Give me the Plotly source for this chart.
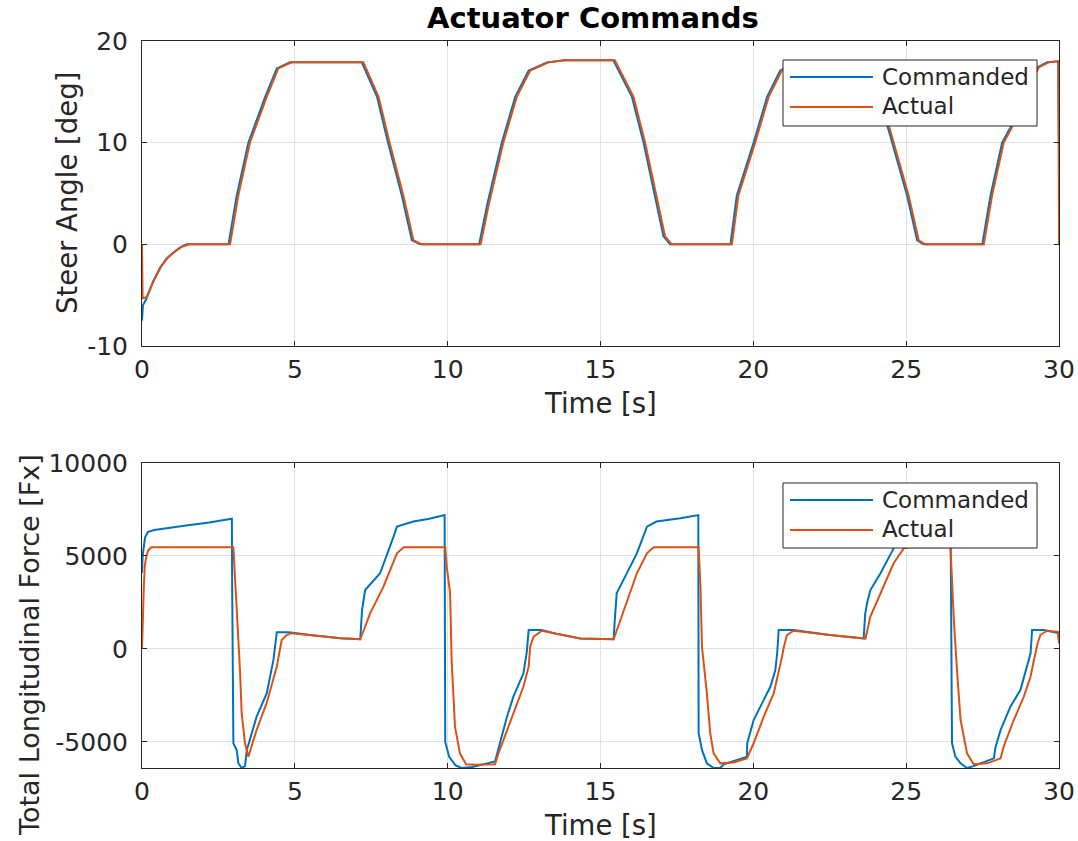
import plotly.graph_objects as go

# ---------------- data ----------------
# Steer angle [deg]
steer_cmd_t = [0, 0.02, 0.03, 0.15, 0.37, 0.59, 0.8, 1.03, 1.25, 1.46, 2.83, 3.10, 3.48, 4.03, 4.41, 4.84, 5.0,
               7.19, 7.69, 8.05, 8.5, 8.83, 9.1, 11.03, 11.3, 11.77, 12.21, 12.65, 13.25, 13.8,
               15.42, 16.03, 16.41, 16.79, 17.06, 17.28, 19.25, 19.46, 20.01, 20.45, 20.88, 21.4,
               23.72, 24.43, 25.03, 25.36, 25.57, 27.49, 27.76, 28.14, 28.41, 28.9, 29.29, 29.61, 29.97, 30.0]
steer_cmd = [-7.5, -6.3, -6.0, -5.3, -3.6, -2.3, -1.4, -0.8, -0.3, 0, 0, 4.8, 10, 14.5, 17.3, 17.9, 17.9,
             17.9, 14.5, 10, 4.8, 0.4, 0, 0, 4.0, 10, 14.5, 17.1, 17.9, 18.1,
             18.1, 14.5, 10, 4.8, 0.8, 0, 0, 4.8, 10, 14.5, 17.1, 17.9,
             17.9, 11.2, 4.8, 0.4, 0, 0, 4.8, 10, 11.5, 15.0, 17.4, 17.9, 18.0, 8.9]

steer_act_t = [0, 0.02, 0.15, 0.4, 0.62, 0.85, 1.08, 1.3, 1.55, 2.88, 3.15, 3.53, 4.08, 4.46, 4.9, 5.05,
               7.24, 7.74, 8.1, 8.55, 8.88, 9.15, 11.08, 11.35, 11.82, 12.26, 12.7, 13.3, 13.85,
               15.47, 16.08, 16.46, 16.84, 17.11, 17.33, 19.3, 19.51, 20.06, 20.5, 20.93, 21.45,
               23.77, 24.48, 25.08, 25.41, 25.62, 27.54, 27.81, 28.19, 28.46, 28.95, 29.34, 29.66, 29.98, 30.0]
steer_act = [0, -5.3, -5.2, -3.5, -2.2, -1.3, -0.7, -0.25, 0, 0, 4.8, 10, 14.5, 17.3, 17.9, 17.9,
             17.9, 14.5, 10, 4.8, 0.4, 0, 0, 4.0, 10, 14.5, 17.1, 17.9, 18.1,
             18.1, 14.5, 10, 4.8, 0.8, 0, 0, 4.8, 10, 14.5, 17.1, 17.9,
             17.9, 11.2, 4.8, 0.4, 0, 0, 4.8, 10, 11.5, 15.0, 17.4, 17.9, 18.0, 0]

# Total longitudinal force [Fx]
force_cmd_t = [0, 0.02, 0.1, 0.2, 0.4, 0.8, 1.5, 2.2, 2.94, 2.95, 2.99, 3.10, 3.15, 3.26, 3.37, 3.43,
               3.75, 4.08, 4.30, 4.41, 4.8, 5.5, 6.5, 7.14, 7.17, 7.2, 7.3, 7.79, 8.23, 8.34, 8.88, 9.4, 9.9,
               9.92, 10.05, 10.25, 10.45, 10.8, 11.55, 11.62, 11.72, 11.94, 12.15, 12.48, 12.59, 12.65,
               13.08, 13.6, 14.34, 15.43, 15.46, 15.53, 15.64, 15.86, 16.19, 16.52, 16.63, 16.83, 17.61, 18.2,
               18.21, 18.32, 18.48, 18.70, 18.92, 19.03, 19.79, 19.8, 20.01, 20.23, 20.56, 20.72, 20.78, 20.83,
               21.32, 22.5, 23.61, 23.66, 23.72, 23.83, 24.16, 24.59, 24.9, 25.1, 25.8, 26.45,
               26.47, 26.5, 26.61, 26.78, 26.99, 27.2, 27.87, 27.92, 28.09, 28.41, 28.74, 28.96, 29.07, 29.12,
               29.5, 29.97, 30.0]
force_cmd = [4100, 5000, 6000, 6300, 6400, 6500, 6650, 6800, 7000, 3350, -5070, -5430, -6130, -6400, -6300, -5430,
             -3640, -2390, -590, 900, 900, 750, 580, 520, 1600, 2100, 3170, 4070, 6040, 6580, 6850, 7000, 7200,
             -5000, -5800, -6250, -6400, -6350, -6050, -5620, -4890, -3640, -2560, -1310, -140, 1020,
             1020, 800, 570, 520, 1390, 2990, 3350, 4070, 5140, 6580, 6670, 6850, 7030, 7200,
             -4520, -5430, -6150, -6400, -6400, -6200, -5790, -5070, -3820, -3100, -2020, -1130, -230, 1020,
             1020, 750, 570, 1900, 2460, 3170, 4070, 5410, 6300, 6700, 7000, 7200,
             0, -5070, -5790, -6150, -6400, -6300, -5880, -5300, -4350, -3100, -2200, -950, -230, 1020,
             1020, 860, 480]

force_act_t = [0, 0.03, 0.06, 0.09, 0.13, 0.2, 0.3, 2.99, 3.04, 3.10, 3.21, 3.26, 3.37, 3.48,
               3.75, 4.08, 4.41, 4.57, 4.73, 4.9, 5.5, 6.5, 7.14, 7.2, 7.46, 7.90, 8.34, 8.56,
               9.92, 9.97, 10.08, 10.13, 10.24, 10.4, 10.6, 10.9, 11.55, 11.66, 11.83, 12.15, 12.48, 12.65,
               12.70, 12.81, 13.08, 13.6, 14.34, 15.43, 15.65, 15.86, 16.19, 16.52, 16.74,
               18.21, 18.27, 18.32, 18.48, 18.59, 18.70, 18.92, 19.35, 19.79, 20.01, 20.34, 20.67, 20.94,
               21.0, 21.10, 21.32, 22.5, 23.67, 23.83, 24.16, 24.59, 24.92, 25.1,
               26.45, 26.5, 26.56, 26.67, 26.78, 26.99, 27.21, 27.65, 28.09, 28.19, 28.52, 28.85, 29.07,
               29.18, 29.3, 29.39, 29.61, 29.97, 30.0]
force_act = [0, 2270, 3350, 4430, 4880, 5290, 5470, 5470, 3890, 2460, -1300, -3440, -5070, -5790,
             -4350, -2900, -950, 480, 750, 850, 750, 580, 520, 800, 1900, 3350, 5140, 5470,
             5470, 4430, 2990, -590, -4180, -5610, -6200, -6230, -6200, -5620, -4890, -3460, -2020, -950,
             120, 660, 980, 800, 570, 520, 1560, 2630, 4070, 5140, 5470,
             5470, 3350, 120, -2380, -4520, -5610, -6150, -6100, -5880, -5070, -3640, -2380, -410,
             120, 750, 980, 750, 560, 1740, 2990, 4610, 5410, 5470,
             5470, 3710, 1560, -1310, -3820, -5610, -6200, -6150, -5880, -5250, -3820, -2560, -1480,
             -590, 300, 750, 980, 920, 300]

x_ticks = [0, 5, 10, 15, 20, 25, 30]
steer_ticks = [-10, 0, 10, 20]
force_ticks = [-5000, 0, 5000, 10000]

# ---------------- style ----------------
W, H = 1078, 841
BLUE = "#0072BD"
ORANGE = "#D95319"
AX = "#262626"
GRID = "#e1e1e1"
FONT = "DejaVu Sans"

def px(x):
    return x / W

def py(y):
    return 1 - y / H

fig = go.Figure()
fig.add_trace(go.Scatter(x=steer_cmd_t, y=steer_cmd, mode="lines", line=dict(color=BLUE, width=2),
                         name="Commanded", xaxis="x", yaxis="y", showlegend=False))
fig.add_trace(go.Scatter(x=steer_act_t, y=steer_act, mode="lines", line=dict(color=ORANGE, width=2),
                         name="Actual", xaxis="x", yaxis="y", showlegend=False))
fig.add_trace(go.Scatter(x=force_cmd_t, y=force_cmd, mode="lines", line=dict(color=BLUE, width=2),
                         name="Commanded", xaxis="x2", yaxis="y2", showlegend=False))
fig.add_trace(go.Scatter(x=force_act_t, y=force_act, mode="lines", line=dict(color=ORANGE, width=2),
                         name="Actual", xaxis="x2", yaxis="y2", showlegend=False))

axis_common = dict(showline=True, linecolor=AX, linewidth=1, mirror="ticks", ticks="inside",
                   ticklen=5, tickcolor=AX, showgrid=True, gridcolor=GRID, gridwidth=1, zeroline=False,
                   automargin=False, tickfont=dict(family=FONT, size=25, color=AX))

xdom = [px(142), px(1059)]
fig.update_layout(
    width=W, height=H, margin=dict(l=0, r=0, t=0, b=0, pad=0, autoexpand=False),
    paper_bgcolor="white", plot_bgcolor="white", showlegend=False,
    xaxis=dict(domain=xdom, range=[0, 30], anchor="y", tickvals=x_ticks, ticktext=[str(v) for v in x_ticks],
               ticklabelstandoff=1, **axis_common),
    yaxis=dict(domain=[py(346), py(41)], range=[-10, 20], anchor="x", tickvals=steer_ticks,
               ticktext=[str(v) for v in steer_ticks], ticklabelstandoff=8, **axis_common),
    xaxis2=dict(domain=xdom, range=[0, 30], anchor="y2", tickvals=x_ticks, ticktext=[str(v) for v in x_ticks],
                ticklabelstandoff=1, **axis_common),
    yaxis2=dict(domain=[py(768), py(463)], range=[-6400, 10000], anchor="x2", tickvals=force_ticks,
                ticktext=[str(v) for v in force_ticks], ticklabelstandoff=8, **axis_common),
)

annotations = [
    dict(text="<b>Actuator Commands</b>", x=px(593), y=py(18), font=dict(family=FONT, size=29, color="black")),
    dict(text="Time [s]", x=px(600), y=py(403), font=dict(family=FONT, size=27.5, color=AX)),
    dict(text="Time [s]", x=px(600), y=py(825), font=dict(family=FONT, size=27.5, color=AX)),
    dict(text="Steer Angle [deg]", x=px(67), y=py(193), textangle=-90, font=dict(family=FONT, size=27.5, color=AX)),
    dict(text="Total Longitudinal Force [Fx]", x=px(29), y=py(645), textangle=-90,
         font=dict(family=FONT, size=27, color=AX)),
]
for a in annotations:
    a.update(xref="paper", yref="paper", showarrow=False, xanchor="center", yanchor="middle")

shapes = []
# manual legends (box, sample lines, labels)
for (top, bot, r1, r2) in [(60, 126, 77, 106), (483, 548, 500, 529)]:
    shapes.append(dict(type="rect", xref="paper", yref="paper", x0=px(783), x1=px(1037), y0=py(bot), y1=py(top),
                       fillcolor="white", line=dict(color=AX, width=1), layer="above"))
    shapes.append(dict(type="line", xref="paper", yref="paper", x0=px(790), x1=px(873), y0=py(r1), y1=py(r1),
                       line=dict(color=BLUE, width=2), layer="above"))
    shapes.append(dict(type="line", xref="paper", yref="paper", x0=px(790), x1=px(873), y0=py(r2 + 1), y1=py(r2 + 1),
                       line=dict(color=ORANGE, width=2), layer="above"))
    annotations.append(dict(text="Commanded", x=px(880), y=py(r1), xref="paper", yref="paper", showarrow=False,
                            xanchor="left", yanchor="middle", font=dict(family=FONT, size=23, color=AX)))
    annotations.append(dict(text="Actual", x=px(880), y=py(r2), xref="paper", yref="paper", showarrow=False,
                            xanchor="left", yanchor="middle", font=dict(family=FONT, size=23, color=AX)))

fig.update_layout(annotations=annotations, shapes=shapes)
# remove the browser's default 8px body margin so the figure fills the window exactly
fig.write_html("out.html", config={"displayModeBar": False},
               post_script="document.body.style.margin='0';document.body.style.overflow='hidden';")
